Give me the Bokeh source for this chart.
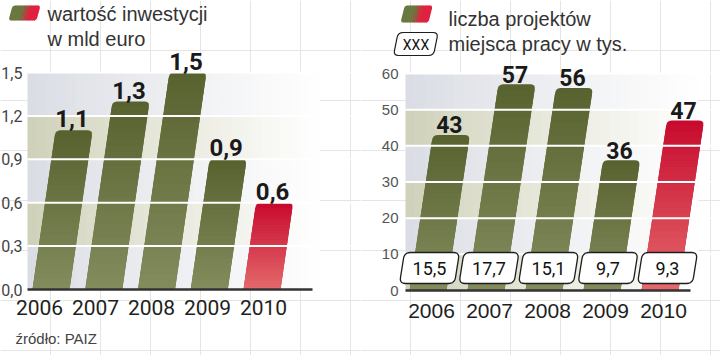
import numpy as np
from bokeh.plotting import figure
from bokeh.models import Range1d, FixedTicker, CustomJSTickFormatter, LinearAxis
from bokeh.layouts import row
from bokeh.embed import file_html
from bokeh.resources import INLINE
from bokeh.core.properties import value

# ---------------- data ----------------
years = ["2006", "2007", "2008", "2009", "2010"]
investment = [1.1, 1.3, 1.5, 0.9, 0.6]          # wartość inwestycji, mld euro
projects = [43, 57, 56, 36, 47]                 # liczba projektów
jobs = [15.5, 17.7, 15.1, 9.7, 9.3]             # miejsca pracy w tys.
inv_ticks = [0.0, 0.3, 0.6, 0.9, 1.2, 1.5]
proj_ticks = [0, 10, 20, 30, 40, 50, 60]
highlight = [False, False, False, False, True]

COND = "Roboto"
SANS = "Liberation Sans"

OLIVE_TOP, OLIVE_BOT = "#58622f", "#838c5d"
RED_TOP, RED_BOT = "#c80a2e", "#e36a6c"
BLUE_BAND, BEIGE_BAND = "#d9dce3", "#cfd0b8"

W, H = 360, 355
MID = 0.35  # distance (in font sizes) from baseline up to text middle


def fmt(v):
    return f"{v:.1f}".replace(".", ",")


def lerp(c1, c2, t):
    a = [int(c1[i:i + 2], 16) for i in (1, 3, 5)]
    b = [int(c2[i:i + 2], 16) for i in (1, 3, 5)]
    return "#%02x%02x%02x" % tuple(int(round(a[k] + (b[k] - a[k]) * t)) for k in range(3))


def rounded(pts, radii, n=6):
    out = []
    m = len(pts)
    for k in range(m):
        C = np.array(pts[k], float)
        P = np.array(pts[k - 1], float)
        N = np.array(pts[(k + 1) % m], float)
        r = radii[k]
        if r <= 0:
            out.append(C)
            continue
        A = C + (P - C) / np.linalg.norm(P - C) * r
        B = C + (N - C) / np.linalg.norm(N - C) * r
        for t in np.linspace(0, 1, n):
            out.append((1 - t) ** 2 * A + 2 * (1 - t) * t * C + t ** 2 * B)
    return [float(q[0]) for q in out], [float(q[1]) for q in out]


def para(x0, y0, w, h, slope):
    return [(x0, y0), (x0 + w, y0), (x0 + w + slope * h, y0 + h), (x0 + slope * h, y0 + h)]


def txt(p, x, base_y, s, font, px, color="#333333", align="left", style="normal"):
    """Header/footer text; page-like coords (y downward), base_y = alphabetic baseline."""
    p.text(x=[x], y=[base_y - MID * px], text=[s], text_font=value(font),
           text_font_size=f"{px}px", text_color=color, text_align=align,
           text_baseline="middle", text_font_style=style)


def swatch(p, x, y_bottom, w, h, slope, ncols=12):
    """Green -> red gradient legend swatch (page-like coords, y downward)."""
    xs, ys, cols = [], [], []
    for k in range(ncols):
        x0 = x + w * k / ncols
        ww = w / ncols + (0.6 if k < ncols - 1 else 0)
        radii = [0, 0, 0, 0]
        if k == 0:
            radii = [3, 0, 0, 3]
        if k == ncols - 1:
            radii = [0, 3, 3, 0]
        px, py = rounded(para(x0, 0, ww, h, slope), radii, n=4)
        xs.append(px)
        ys.append([y_bottom - q for q in py])
        t = k / (ncols - 1)
        t2 = min(1.0, max(0.0, (t - 0.35) / 0.35))
        cols.append(lerp("#68783f", "#e0203e", t2))
    p.patches(xs, ys, fill_color=cols, line_color=None)


def style_axis(ax, font, size, color, standoff):
    ax.axis_line_color = None
    ax.major_tick_line_color = None
    ax.minor_tick_line_color = None
    ax.major_tick_out = 0
    ax.major_tick_in = 0
    ax.minor_tick_out = 0
    ax.minor_tick_in = 0
    ax.major_label_text_font = font
    ax.major_label_text_font_size = size
    ax.major_label_text_color = color
    ax.major_label_standoff = standoff


def make_chart(vals, ticks, tick_fmt_code, unit, py0, fl, plot_right, bar_x0, bar_pitch, bar_w,
               slope, year_x0, year_pitch, ylab_font, ylab_size, ylab_color, ylab_standoff,
               xlab_font, xlab_size, xlab_standoff, vlab_px, vlab_gap):
    # default ranges: page-like pixels (y downward) for header / footer items;
    # "v" range: the chart's values, with value 0 on page row py0
    p = figure(width=W, height=H, output_backend="svg", toolbar_location=None,
               x_range=Range1d(0, W), y_range=Range1d(H, 0),
               min_border=0, x_axis_location=None, y_axis_location=None)
    p.extra_y_ranges = {"v": Range1d(-(H - py0) / unit, py0 / unit)}
    p.outline_line_color = None
    p.background_fill_color = "white"
    p.border_fill_color = "white"

    # background bands fading to white
    nstrip = 30
    fade_w = 292.0
    sw = fade_w / nstrip
    L, R, B, T, C = [], [], [], [], []
    for j in range(len(ticks) - 1):
        base = BLUE_BAND if (len(ticks) - 2 - j) % 2 == 0 else BEIGE_BAND
        for s in range(nstrip):
            t = (s + 0.5) / nstrip
            L.append(fl + s * sw)
            R.append(fl + (s + 1) * sw + 0.6)
            B.append(ticks[j])
            T.append(ticks[j + 1])
            C.append(lerp(base, "#ffffff", min(1.0, t ** 0.9)))
    p.quad(left=L, right=R, bottom=B, top=T, fill_color=C, line_color=None, y_range_name="v")

    # bars (slanted, rounded top, vertical gradient)
    xs, ys, cols = [], [], []
    r = 5.0
    nsl = 28
    for i, v in enumerate(vals):
        top_c, bot_c = (RED_TOP, RED_BOT) if highlight[i] else (OLIVE_TOP, OLIVE_BOT)
        h = v * unit
        x0 = bar_x0 + bar_pitch * i
        px, py = rounded(para(x0, 0, bar_w, h, slope), [0, 0, r, r])
        xs.append(px)
        ys.append([q / unit for q in py])
        cols.append(top_c)
        hs = h - r
        for k in range(nsl):
            ya = hs * k / nsl
            yb = min(hs * (k + 1) / nsl + 0.7, hs)
            pts = [(x0 + slope * ya, ya), (x0 + bar_w + slope * ya, ya),
                   (x0 + bar_w + slope * yb, yb), (x0 + slope * yb, yb)]
            xs.append([q[0] for q in pts])
            ys.append([q[1] / unit for q in pts])
            cols.append(lerp(bot_c, top_c, (ya + yb) / 2 / h))
    p.patches(xs, ys, fill_color=cols, line_color=None, y_range_name="v")

    # white grid lines above bars
    gt = [t for t in ticks if t > 0]
    p.segment(x0=[fl] * len(gt), y0=gt, x1=[W] * len(gt), y1=gt, line_color="white",
              line_width=2, y_range_name="v")

    # base line
    p.segment(x0=[fl], y0=[0], x1=[plot_right], y1=[0], line_color="#333333", line_width=2.5,
              y_range_name="v")

    # value labels
    lx = [bar_x0 + bar_pitch * i + bar_w / 2 + slope * v * unit - 2 for i, v in enumerate(vals)]
    ly = [v + (vlab_gap + MID * vlab_px) / unit for v in vals]
    labs = [fmt(v) if isinstance(v, float) else str(v) for v in vals]
    p.text(x=lx, y=ly, text=labs, text_font=value(COND), text_font_style="bold",
           text_font_size=f"{vlab_px}px", text_color="#1a1a1a", text_align="center",
           text_baseline="middle", y_range_name="v")

    # axes, drawn at fixed locations inside the frame
    ya = LinearAxis(y_range_name="v", fixed_location=fl,
                    ticker=FixedTicker(ticks=ticks),
                    formatter=CustomJSTickFormatter(code=tick_fmt_code))
    style_axis(ya, ylab_font, ylab_size, ylab_color, ylab_standoff)
    p.add_layout(ya, "left")

    xpos = [year_x0 + year_pitch * i for i in range(len(years))]
    xa = LinearAxis(y_range_name="v", fixed_location=0,
                    ticker=FixedTicker(ticks=xpos),
                    formatter=CustomJSTickFormatter(
                        args=dict(pos=xpos, labs=years),
                        code="const i = pos.indexOf(tick); return i >= 0 ? labs[i] : '';"))
    style_axis(xa, xlab_font, xlab_size, "#1e1e1e", xlab_standoff)
    p.add_layout(xa, "below")
    return p


# ---------------- left chart ----------------
left = make_chart(investment, inv_ticks, "return tick.toFixed(1).replace('.', ',');",
                  unit=217.0 / 1.5, py0=289, fl=27, plot_right=312,
                  bar_x0=32, bar_pitch=52.75, bar_w=37, slope=0.145,
                  year_x0=39, year_pitch=56,
                  ylab_font=COND, ylab_size="16px", ylab_color="#444444", ylab_standoff=5,
                  xlab_font=COND, xlab_size="21px", xlab_standoff=10,
                  vlab_px=24, vlab_gap=3)
swatch(left, 8, 20, 28, 15, 0.27)
txt(left, 47, 20, "wartość inwestycji", SANS, 20)
txt(left, 47, 45, "w mld euro", SANS, 20)
txt(left, 15, 343, "źródło: PAIZ", SANS, 15, color="#444444")

# ---------------- right chart ----------------
unit2 = 217.0 / 60
right = make_chart(projects, proj_ticks, "return String(tick);",
                   unit=unit2, py0=290, fl=45, plot_right=330,
                   bar_x0=49, bar_pitch=58, bar_w=37, slope=0.15,
                   year_x0=71, year_pitch=58,
                   ylab_font=SANS, ylab_size="15px", ylab_color="#555555", ylab_standoff=7,
                   xlab_font=SANS, xlab_size="21px", xlab_standoff=13,
                   vlab_px=23, vlab_gap=2)

# job boxes (miejsca pracy)
bxs, bys, tx, ty = [], [], [], []
bw, bh, bslope = 55, 31, 0.16
for i, jv in enumerate(jobs):
    cx = 69 + 59.5 * i
    x0 = cx - bw / 2 - bslope * bh / 2
    px, py = rounded(para(x0, 7, bw, bh, bslope), [6, 6, 6, 6])
    bxs.append(px)
    bys.append([q / unit2 for q in py])
    tx.append(cx)
    ty.append((7 + bh / 2) / unit2)
right.patches(bxs, bys, fill_color="white", line_color="#1e1e1e", line_width=1.3,
              y_range_name="v")
right.text(x=tx, y=ty, text=[fmt(j) for j in jobs], text_font=value(COND),
           text_font_size="18px", text_color="#111111", text_align="center",
           text_baseline="middle", y_range_name="v")

swatch(right, 40, 22, 28, 17, 0.25)
txt(right, 88, 25, "liczba projektów", SANS, 20)
bx, by = rounded(para(33, 0, 40, 23, 0.2), [5, 5, 5, 5], n=5)
right.patch(bx, [55 - q for q in by], fill_color="white", line_color="#1e1e1e", line_width=1.2)
right.text(x=[55.5], y=[44], text=["XXX"], text_font=value(COND), text_font_size="14px",
           text_color="#111111", text_align="center", text_baseline="middle")
txt(right, 88, 50, "miejsca pracy w tys.", SANS, 20)

layout = row(left, right, spacing=0)
open("out.html", "w").write(file_html(layout, INLINE))
